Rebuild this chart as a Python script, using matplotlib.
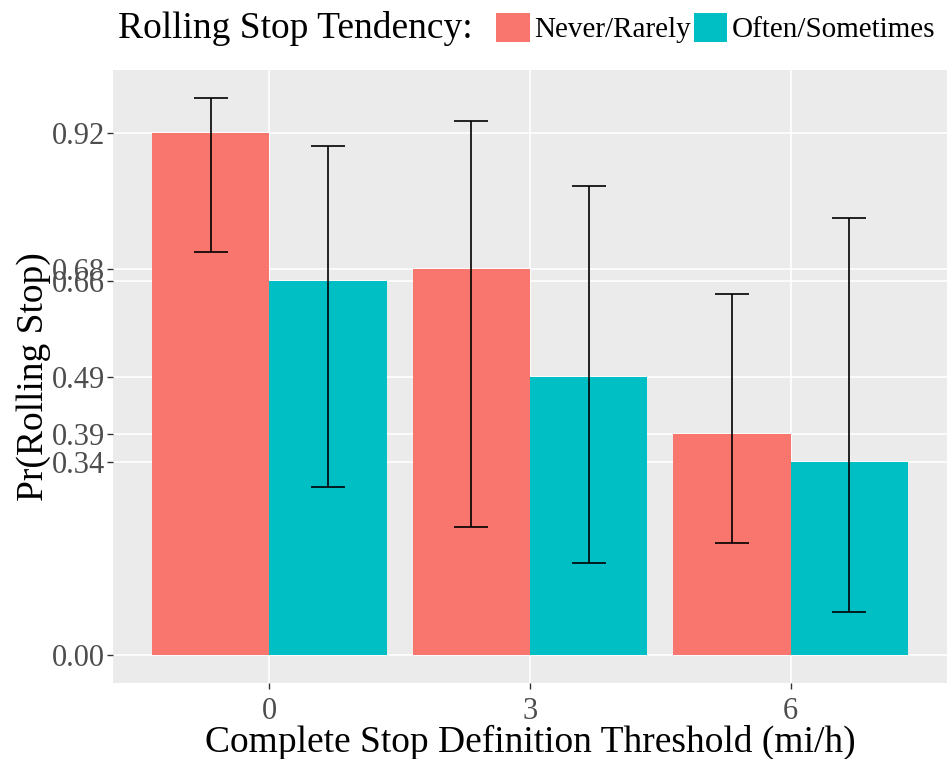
import numpy as np
import matplotlib.pyplot as plt
from matplotlib.patches import Patch

# bar heights and confidence limits per threshold
thresholds = ['0', '3', '6']
never_rarely = [0.92, 0.68, 0.39]
often_sometimes = [0.66, 0.49, 0.34]
never_lo = [0.711, 0.225, 0.197]
never_hi = [0.982, 0.942, 0.636]
often_lo = [0.297, 0.162, 0.076]
often_hi = [0.898, 0.826, 0.771]

red = '#F8766D'
teal = '#00BFC4'
serif = ['Liberation Serif', 'DejaVu Serif']
plt.rcParams['font.family'] = serif

fig = plt.figure(figsize=(9.51, 7.59), dpi=100)
ax = fig.add_axes([113 / 951, 76 / 759, 834 / 951, 613 / 759])
ax.set_facecolor('#EBEBEB')

x = np.arange(len(thresholds))
w = 0.45
ax.bar(x - w / 2, never_rarely, width=w, color=red, zorder=2)
ax.bar(x + w / 2, often_sometimes, width=w, color=teal, zorder=2)

for off, val, lo, hi in [(-w / 2, never_rarely, never_lo, never_hi),
                         (w / 2, often_sometimes, often_lo, often_hi)]:
    val = np.array(val)
    ax.errorbar(x + off, val, yerr=[val - np.array(lo), np.array(hi) - val],
                fmt='none', ecolor='black', elinewidth=1.2, capsize=12.5,
                capthick=1.2, zorder=3)

# y breaks at the bar values
yticks = sorted(set(never_rarely + often_sometimes + [0.0]))
ax.set_yticks(yticks)
ax.set_yticklabels(['%.2f' % t for t in yticks])
ax.set_xticks(x)
ax.set_xticklabels(thresholds)

top = max(never_hi + often_hi)
ax.set_ylim(-0.05 * top, top * 1.05)
ax.set_xlim(-0.6, 2.6)

ax.grid(True, color='white', linewidth=1.2, zorder=0)
ax.set_axisbelow(True)
for s in ax.spines.values():
    s.set_visible(False)
ax.tick_params(axis='both', colors='#333333', length=4, width=1,
               labelsize=22, labelcolor='#4D4D4D', pad=2)
ax.tick_params(axis='x', pad=6)

ax.set_xlabel('Complete Stop Definition Threshold (mi/h)', fontsize=27,
              va='center')
ax.xaxis.set_label_coords(0.5, -0.097)
ax.set_ylabel('Pr(Rolling Stop)', fontsize=27, va='center')
ax.yaxis.set_label_coords(-0.095, 0.5)

# legend across the top
fig.text(118 / 951, 1 - 28 / 759, 'Rolling Stop Tendency:', fontsize=27,
         va='center', ha='left')
handles = [Patch(facecolor=red, label='Never/Rarely'),
           Patch(facecolor=teal, label='Often/Sometimes')]
fig.legend(handles=handles, ncol=2, loc='center left',
           bbox_to_anchor=(496 / 951, 1 - 28 / 759), frameon=False,
           fontsize=21, handlelength=1.15, handleheight=1.15,
           handletextpad=0.15, columnspacing=0.1, borderaxespad=0,
           borderpad=0)

fig.savefig('out.png', dpi=100)
